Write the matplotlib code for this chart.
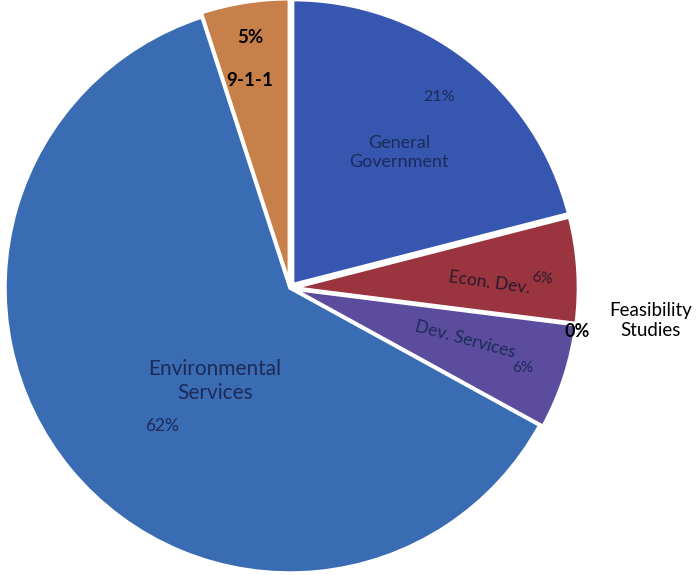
import matplotlib.pyplot as plt
import numpy as np

# budget share by department
names = ["General\nGovernment", "Econ. Dev.", "Feasibility\nStudies",
         "Dev. Services", "Environmental\nServices", "9-1-1"]
shares = [21, 6, 0, 6, 62, 5]
colors = ["#3656b0", "#9a3540", "#8a3a50", "#5b4c9e", "#3a6cb4", "#c8804a"]

fig = plt.figure(figsize=(6.96, 5.75), dpi=100)
ax = fig.add_axes([0, 0, 1, 1])

wedges, _ = ax.pie(shares, colors=colors, startangle=90, counterclock=False,
                   explode=[0.015, 0.012, 0.0, 0.012, 0.0, 0.015],
                   wedgeprops=dict(edgecolor="white", linewidth=2.5))

# pie() resets the limits, so fix the frame afterwards
R = 285.0
ax.set_xlim(-290 / R, 406 / R)
ax.set_ylim(-(575 - 288) / R, 288 / R)
ax.set_aspect("equal")
ax.axis("off")


def polar(r, deg):
    a = np.radians(deg)
    return r * np.cos(a), r * np.sin(a)


def mid(w):
    return (w.theta1 + w.theta2) / 2


font = "Lato"
inner = "#1c2b58"

# General Government
w = wedges[0]
ax.text(*polar(0.61, mid(w) - 1), names[0], ha="center", va="center",
        fontsize=13, color=inner, family=font, linespacing=1.2)
ax.text(*polar(0.85, mid(w)), f"{shares[0]}%", ha="center", va="center",
        fontsize=11.5, color=inner, family=font)

# Econ. Dev.
w = wedges[1]
ax.text(*polar(0.70, mid(w) - 2), names[1], ha="center", va="center",
        fontsize=12.5, color="#2a1a2a", family=font, rotation=-8)
ax.text(*polar(0.885, mid(w) - 1.5), f"{shares[1]}%", ha="center", va="center",
        fontsize=11, color="#2a1a2a", family=font, rotation=-8)

# Feasibility Studies (zero slice, labelled outside)
w = wedges[2]
ax.text(*polar(1.02, mid(w) - 1.5), f"{shares[2]}%", ha="center", va="center",
        fontsize=13, color="black", family=font, fontweight="bold")
ax.text(*polar(1.27, mid(w) + 2), names[2], ha="center", va="center",
        fontsize=13.5, color="black", family=font, linespacing=1.2)

# Dev. Services
w = wedges[3]
ax.text(*polar(0.64, mid(w) + 1.5), names[3], ha="center", va="center",
        fontsize=12.5, color=inner, family=font, rotation=-15)
ax.text(*polar(0.864, mid(w) - 1), f"{shares[3]}%", ha="center", va="center",
        fontsize=11, color=inner, family=font)

# Environmental Services
w = wedges[4]
ax.text(*polar(0.42, 231), names[4], ha="center", va="center",
        fontsize=15, color=inner, family=font, linespacing=1.3)
ax.text(*polar(0.66, 227), f"{shares[4]}%", ha="center", va="center",
        fontsize=12.5, color=inner, family=font)

# 9-1-1
w = wedges[5]
ax.text(*polar(0.89, mid(w)), f"{shares[5]}%", ha="center", va="center",
        fontsize=13.5, color="black", family=font, fontweight="bold")
ax.text(*polar(0.74, mid(w) + 2), names[5], ha="center", va="center",
        fontsize=13.5, color="black", family=font, fontweight="bold")

fig.savefig("out.png", dpi=100, facecolor="white")
